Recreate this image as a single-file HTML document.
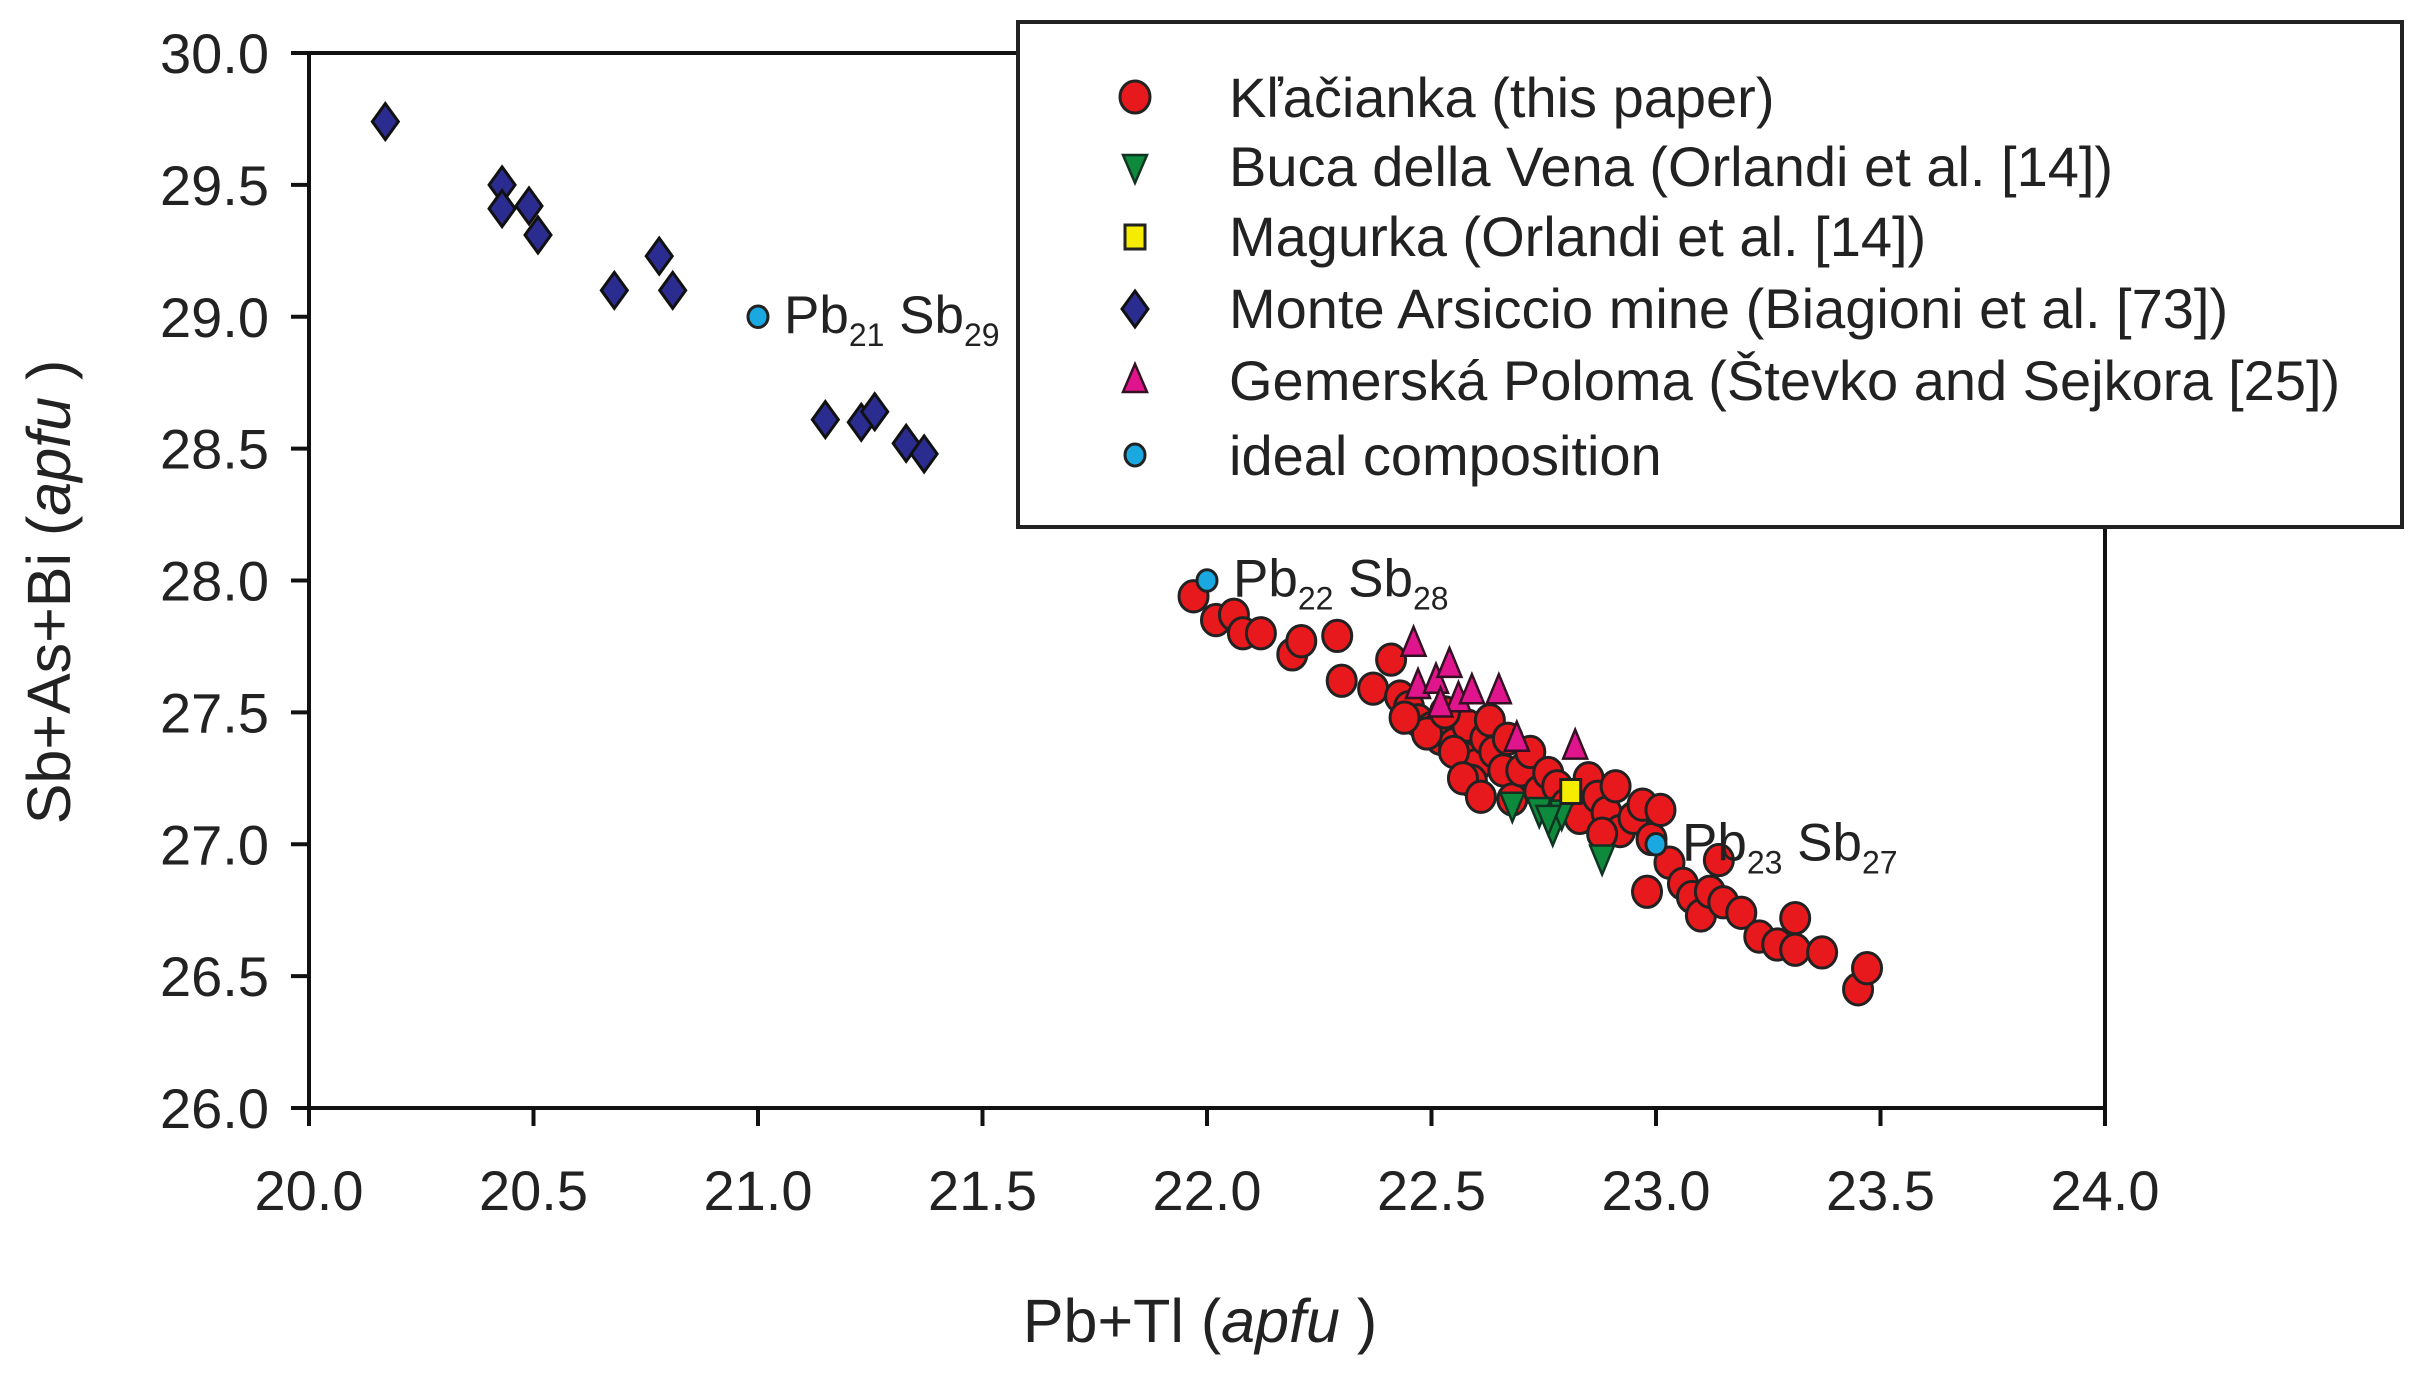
<!DOCTYPE html>
<html><head><meta charset="utf-8"><style>
html,body{margin:0;padding:0;background:#fff;}
svg text{font-family:"Liberation Sans",Arial,sans-serif;fill:#222;}
</style></head><body>
<svg id="chart" width="2432" height="1370" viewBox="0 0 2432 1370" xmlns="http://www.w3.org/2000/svg">
<g id="marks"></g>
<g id="axes"></g>
</svg>
<script>
const xTicks=[20.0,20.5,21.0,21.5,22.0,22.5,23.0,23.5,24.0];
const yTicks=[26.0,26.5,27.0,27.5,28.0,28.5,29.0,29.5,30.0];
const klacX=[21.97,22.02,22.06,22.08,22.12,22.19,22.21,22.29,22.30,22.37,22.41,22.43,22.45,22.47,22.50,22.52,22.55,22.57,22.58,22.60,22.62,22.64,22.66,22.55,22.49,22.53,22.59,22.68,22.70,22.72,22.74,22.76,22.78,22.80,22.83,22.85,22.87,22.89,22.91,22.92,22.95,22.97,22.99,23.01,22.88,22.98,23.03,23.06,23.08,23.10,23.12,23.14,23.15,23.19,23.23,23.27,23.31,23.31,23.37,23.45,23.47,22.63,22.67,22.57,22.44,22.61];
const klacY=[27.94,27.85,27.87,27.80,27.80,27.72,27.77,27.79,27.62,27.59,27.70,27.56,27.52,27.47,27.44,27.40,27.38,27.33,27.45,27.30,27.40,27.35,27.28,27.35,27.42,27.50,27.24,27.17,27.28,27.35,27.20,27.27,27.22,27.15,27.10,27.25,27.18,27.12,27.22,27.05,27.10,27.15,27.02,27.13,27.04,26.82,26.93,26.85,26.80,26.73,26.82,26.94,26.78,26.74,26.65,26.62,26.72,26.60,26.59,26.45,26.53,27.47,27.40,27.25,27.48,27.18];
const bucaX=[22.68,22.74,22.77,22.79,22.88,22.76];
const bucaY=[27.15,27.13,27.06,27.12,26.95,27.10];
const magX=[22.81];
const magY=[27.20];
const monteX=[20.17,20.43,20.43,20.49,20.51,20.68,20.78,20.81,21.15,21.23,21.26,21.33,21.37];
const monteY=[29.74,29.50,29.41,29.42,29.31,29.10,29.23,29.10,28.61,28.60,28.64,28.52,28.48];
const gemX=[22.46,22.47,22.51,22.54,22.56,22.59,22.65,22.69,22.82,22.52];
const gemY=[27.76,27.60,27.62,27.68,27.55,27.58,27.58,27.40,27.37,27.53];
const idealX=[21.0,22.0,23.0];
const idealY=[29.0,28.0,27.0];
const idealLabelsPb=["21","22","23"];
const idealLabelsSb=["29","28","27"];

const L=309,R=2105,T=53,B=1108;
const sx=v=>L+(v-20)/4*(R-L);
const sy=v=>B-(v-26)/4*(B-T);
const NS="http://www.w3.org/2000/svg";
const marks=document.getElementById('marks');
const axes=document.getElementById('axes');
function mk(tag,attrs,parent){const e=document.createElementNS(NS,tag);for(const k in attrs)e.setAttribute(k,attrs[k]);parent.appendChild(e);return e;}

function circle(x,y,r,fill,parent){return mk('ellipse',{cx:x,cy:y,rx:r,ry:r*1.08,fill:fill,stroke:'#222','stroke-width':3},parent);}
function triUp(x,y,parent){return mk('polygon',{points:`${x},${y-17} ${x-12},${y+12} ${x+12},${y+12}`,fill:'#e0148c',stroke:'#331122','stroke-width':2.5},parent);}
function triDown(x,y,parent){return mk('polygon',{points:`${x-12},${y-12} ${x+12},${y-12} ${x},${y+17}`,fill:'#0e8a3c',stroke:'#113322','stroke-width':2.5},parent);}
function square(x,y,parent){return mk('rect',{x:x-10,y:y-12,width:20,height:24,fill:'#f5ec00',stroke:'#222','stroke-width':3},parent);}
function diamond(x,y,parent){return mk('polygon',{points:`${x},${y-18} ${x+13},${y} ${x},${y+18} ${x-13},${y}`,fill:'#2a2d8f',stroke:'#111','stroke-width':3},parent);}

for(let i=0;i<monteX.length;i++){const e=diamond(sx(monteX[i]),sy(monteY[i]),marks);

}
for(let i=0;i<klacX.length;i++){const e=circle(sx(klacX[i]),sy(klacY[i]),14.5,'#e8191c',marks);

}
for(let i=0;i<gemX.length;i++){const e=triUp(sx(gemX[i]),sy(gemY[i]),marks);

}
for(let i=0;i<bucaX.length;i++){const e=triDown(sx(bucaX[i]),sy(bucaY[i]),marks);

}
for(let i=0;i<magX.length;i++){const e=square(sx(magX[i]),sy(magY[i]),marks);

}
for(let i=0;i<idealX.length;i++){
const x=sx(idealX[i]),y=sy(idealY[i]);
const e=circle(x,y,10,'#19a8e0',marks);


const t=mk('text',{x:x+26,y:y+16,'font-size':53},marks);


t.innerHTML=`Pb<tspan font-size="32" dy="13">${idealLabelsPb[i]}</tspan><tspan dy="-13"> Sb</tspan><tspan font-size="32" dy="13">${idealLabelsSb[i]}</tspan>`;
}

const fr=mk('rect',{x:L,y:T,width:R-L,height:B-T,fill:'none',stroke:'#111','stroke-width':4},axes);


for(const v of xTicks){
const x=sx(v);
const tk=mk('line',{x1:x,x2:x,y1:B,y2:B+18,stroke:'#111','stroke-width':4},axes);


const t=mk('text',{x:x,y:B+102,'font-size':56,'text-anchor':'middle'},axes);


t.textContent=v.toFixed(1);
}
for(const v of yTicks){
const y=sy(v);
const tk=mk('line',{x1:L-18,x2:L,y1:y,y2:y,stroke:'#111','stroke-width':4},axes);


const t=mk('text',{x:L-40,y:y+20,'font-size':56,'text-anchor':'end'},axes);


t.textContent=v.toFixed(1);
}
</script>
<svg style="position:absolute;left:0;top:0" width="2432" height="1370">
<text x="1200" y="1342" font-size="61" text-anchor="middle" style="font-family:'Liberation Sans',sans-serif;fill:#222">Pb+Tl (<tspan font-style="italic">apfu</tspan> )</text>
<text transform="translate(70,592) rotate(-90)" font-size="61" text-anchor="middle" style="font-family:'Liberation Sans',sans-serif;fill:#222">Sb+As+Bi (<tspan font-style="italic">apfu</tspan> )</text>
<g style="font-family:'Liberation Sans',sans-serif">
<rect x="1018" y="22" width="1384" height="505" fill="#fff" stroke="#222" stroke-width="4"/>
<g>
<ellipse cx="1135" cy="97" rx="15" ry="16" fill="#e8191c" stroke="#222" stroke-width="3"/>
<text x="1229" y="117" font-size="56" fill="#222">Kľačianka (this paper)</text></g>
<g>
<polygon points="1123,155 1147,155 1135,183" fill="#0e8a3c" stroke="#113322" stroke-width="2.5"/>
<text x="1229" y="186" font-size="56" fill="#222">Buca della Vena (Orlandi et al. [14])</text></g>
<g>
<rect x="1125" y="225" width="20" height="24" fill="#f5ec00" stroke="#222" stroke-width="3"/>
<text x="1229" y="256" font-size="56" fill="#222">Magurka (Orlandi et al. [14])</text></g>
<g>
<polygon points="1135,291 1148,309 1135,327 1122,309" fill="#2a2d8f" stroke="#111" stroke-width="3"/>
<text x="1229" y="328" font-size="56" fill="#222">Monte Arsiccio mine (Biagioni et al. [73])</text></g>
<g>
<polygon points="1135,364 1123,392 1147,392" fill="#e0148c" stroke="#331122" stroke-width="2.5"/>
<text x="1229" y="400" font-size="56" fill="#222">Gemerská Poloma (Števko and Sejkora [25])</text></g>
<g>
<ellipse cx="1135" cy="455" rx="10" ry="11" fill="#19a8e0" stroke="#222" stroke-width="3"/>
<text x="1229" y="475" font-size="56" fill="#222">ideal composition</text></g>
</g>
</svg>
</body></html>
